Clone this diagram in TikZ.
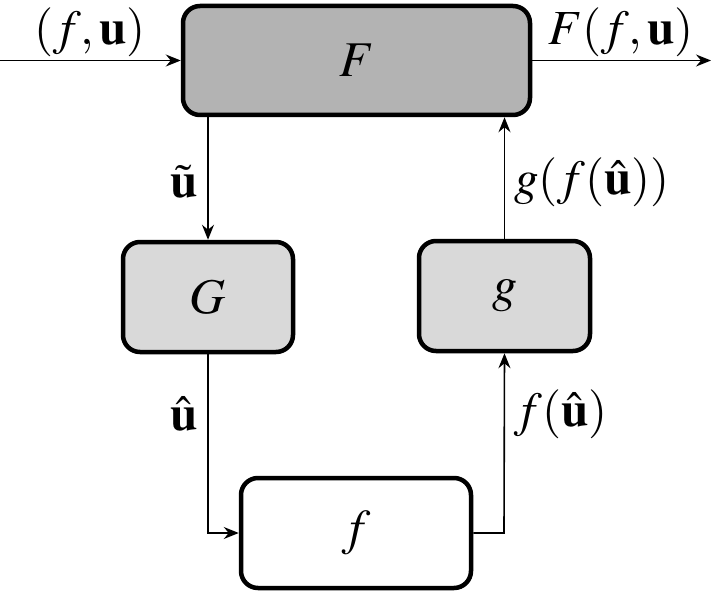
\documentclass[tikz,border=0pt]{standalone}
\usepackage{mathptmx}
\usepackage{fontspec}
\setmainfont{Liberation Serif}
\usetikzlibrary{arrows.meta}
\definecolor{darkbox}{HTML}{B3B3B3}
\definecolor{lightbox}{HTML}{D9D9D9}
\tikzset{
  blockbox/.style={draw, line width=4.5pt, rounded corners=17pt, inner sep=0pt, font=\fontsize{50}{54}\selectfont},
  conn/.style={line width=1.6pt, -{Stealth[length=15pt,width=12pt,inset=5pt]}},
  lbl/.style={inner sep=0pt, font=\fontsize{49}{53}\selectfont},
}
\begin{document}
\begin{tikzpicture}[x=1pt,y=-1pt]
\useasboundingbox (0,0) rectangle (713,594);
\node[blockbox, fill=darkbox, minimum width=347pt, minimum height=109pt] (F) at (356.5,60.5) {$F$};
\node[blockbox, fill=lightbox, minimum width=170pt, minimum height=110pt] (G) at (208,297) {$G$};
\node[blockbox, fill=lightbox, minimum width=171pt, minimum height=110pt] (g) at (504.5,296) {$g$};
\node[blockbox, fill=white, minimum width=230pt, minimum height=110pt] (f) at (356,533) {$f$};
\coordinate (in) at (0,60.5);
\coordinate (out) at (711,60.5);
\coordinate (bl) at (208,533);
\coordinate (br) at (504,533);
\draw[conn] (in) -- (F.west);
\draw[conn] (F.east) -- (out);
\draw[conn] (G.north |- F.south) -- (G.north);
\draw[conn] (G.south) -- (bl) -- (f.west);
\draw[conn] (f.east) -- (br) -- (g.south);
\draw[conn] (g.north) -- (g.north |- F.south);
\node[lbl] (l1) at (90,32) {$(f,\mathbf{u})$};
\node[lbl] (l2) at (621,32) {$F(f,\mathbf{u})$};
\node[lbl] (l3) at (184,182) {$\tilde{\mathbf{u}}$};
\node[lbl] (l4) at (592,182) {$g(f(\hat{\mathbf{u}}))$};
\node[lbl] (l5) at (184,414) {$\hat{\mathbf{u}}$};
\node[lbl] (l6) at (561,414) {$f(\hat{\mathbf{u}})$};
\end{tikzpicture}
\end{document}
